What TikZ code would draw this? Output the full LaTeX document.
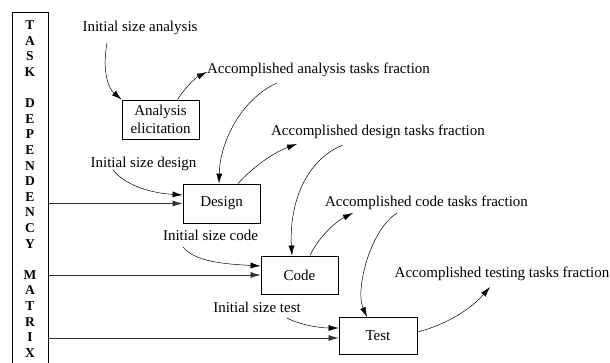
\documentclass[tikz,border=0pt]{standalone}
\usepackage{fontspec}
\setmainfont{Liberation Serif}
\usetikzlibrary{arrows.meta}
\begin{document}
\begin{tikzpicture}[x=1pt,y=-1pt,
  txt/.style={inner sep=0pt,font=\fontsize{15}{18}\selectfont},
  stage/.style={draw,line width=0.8pt,inner sep=0pt,align=center,
    font=\fontsize{15}{18}\selectfont},
  flow/.style={line width=0.5pt,-{Latex[length=10pt,width=6pt]}},
  feed/.style={line width=0.6pt,black!80,-{Latex[length=10pt,width=6pt]}}]
\useasboundingbox (0,0) rectangle (610,363);

% task dependency matrix column
\node[draw,line width=0.8pt,minimum width=36pt,minimum height=365pt,inner sep=0pt,anchor=north] (col) at (30,12) {};
\node[inner sep=0pt,align=center,font=\fontsize{13.5}{15.6}\selectfont\bfseries] (letters) at (30,189)
  {T\\A\\S\\K\\[15.6pt]D\\E\\P\\E\\N\\D\\E\\N\\C\\Y\\[15.6pt]M\\A\\T\\R\\I\\X};

% stages
\node[stage,minimum width=77pt,minimum height=39pt] (ana) at (160.5,119.5) {Analysis\\elicitation};
\node[stage,minimum width=77pt,minimum height=39pt] (des) at (221.5,203.5) {Design};
\node[stage,minimum width=77pt,minimum height=38pt] (code) at (299.5,275) {Code};
\node[stage,minimum width=78pt,minimum height=37pt] (test) at (378,336) {Test};

% labels
\node[txt] (isa) at (140,28) {Initial size analysis};
\node[txt] (aaf) at (318.5,70) {Accomplished analysis tasks fraction};
\node[txt] (isd) at (143.5,164) {Initial size design};
\node[txt] (adf) at (378,132) {Accomplished design tasks fraction};
\node[txt] (isc) at (210.5,235) {Initial size code};
\node[txt] (acf) at (426.5,203) {Accomplished code tasks fraction};
\node[txt] (ist) at (257,307) {Initial size test};
\node[txt] (atf) at (502,274) {Accomplished testing tasks fraction};

% curve end points next to the labels
\coordinate (c1) at (107,43);
\coordinate (c2) at (207,72);
\coordinate (c3) at (277,83);
\coordinate (c4) at (297,144);
\coordinate (c5) at (113,170);
\coordinate (c6) at (343,145);
\coordinate (c7) at (353,213);
\coordinate (c8) at (183,247);
\coordinate (c9) at (397,213);
\coordinate (c10) at (490,287);
\coordinate (c11) at (287,318);

% analysis
\draw[flow] (c1) .. controls (102,70) and (108,88) .. (ana.north west);
\draw[flow] ([xshift=-22pt]ana.north east) .. controls (185,88) and (195,78) .. (c2);
% design
\draw[flow] (c3) .. controls (243,98) and (220,140) .. ([xshift=-2.5pt]des.north);
\draw[flow] ([xshift=16.5pt]des.north) .. controls (255,165) and (275,152) .. (c4);
\draw[flow] (c5) .. controls (125,185) and (150,193) .. ([yshift=8.5pt]des.west);
% code
\draw[flow] (c6) .. controls (305,160) and (289,205) .. ([xshift=-7.5pt]code.north);
\draw[flow] ([xshift=10.5pt]code.north) .. controls (318,238) and (335,222) .. (c7);
\draw[flow] (c8) .. controls (195,262) and (225,264) .. ([yshift=9pt]code.west);
% test
\draw[flow] (c9) .. controls (370,230) and (355,290) .. ([xshift=-11pt]test.north);
\draw[flow] ([yshift=4pt]test.east) .. controls (445,325) and (470,310) .. (c10);
\draw[flow] (c11) .. controls (300,325) and (320,328) .. ([yshift=8pt]test.west);

% matrix feeds
\draw[feed] (col.east |- des.west) -- (des.west);
\draw[feed] (col.east |- code.west) -- (code.west);
\draw[feed] (col.east |- test.west) ++(0,2) -- ([yshift=-2pt]test.west);
\end{tikzpicture}
\end{document}
